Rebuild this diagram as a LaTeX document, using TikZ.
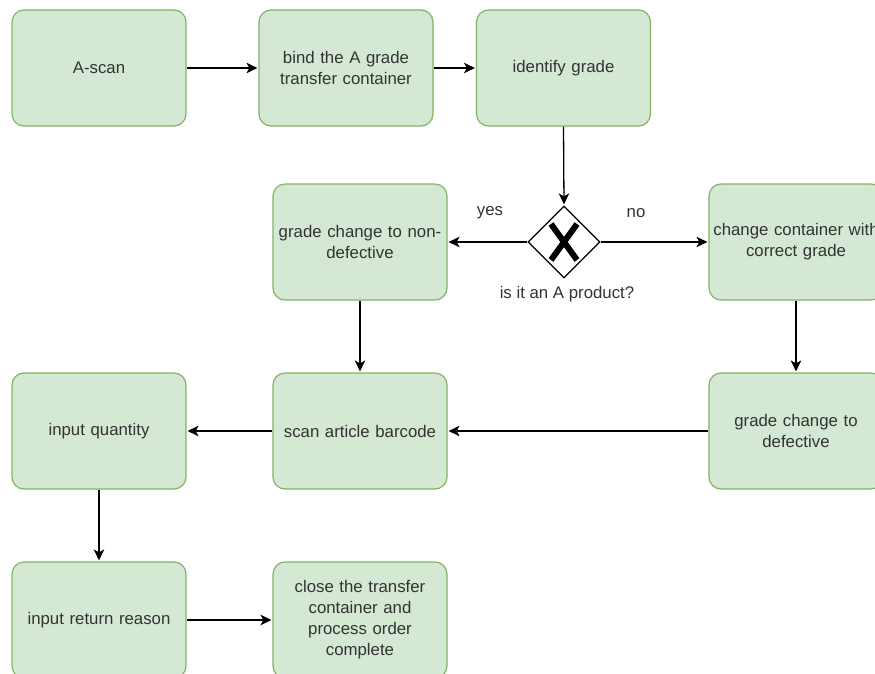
\documentclass[tikz,border=0pt]{standalone}
\usepackage{fontspec}
\setmainfont{Liberation Sans}
\usetikzlibrary{arrows.meta,shapes.geometric}
\definecolor{boxfill}{HTML}{D5E8D4}
\definecolor{boxline}{HTML}{82B366}
\definecolor{txt}{HTML}{333333}
\begin{document}
\begin{tikzpicture}[x=1pt,y=-1pt,
  task/.style={draw=boxline,fill=boxfill,line width=1.2pt,rounded corners=12pt,
    minimum width=174pt,minimum height=116pt,text width=168pt,align=center,
    font=\fontsize{16.8}{21}\selectfont,text=txt,inner sep=0pt},
  gate/.style={draw=black,fill=white,diamond,line width=1.2pt,
    minimum width=72pt,minimum height=72pt,inner sep=0pt},
  flow/.style={-{Stealth[length=11pt,width=10.5pt,inset=3pt]},line width=1.3pt,
    shorten >=1pt},
  lbl/.style={font=\fontsize{16.8}{20}\selectfont,text=txt}]
\useasboundingbox (0,0) rectangle (875,674);
\clip (0,0) rectangle (875,674);
\fill[white] (0,0) rectangle (875,674);
% top row
\node[task] (scan)  at (99,68)  {A-scan};
\node[task] (bind)  at (346,68) {bind the A grade\\transfer container};
\node[task] (ident) at (563.5,68) {identify grade};
% decision row
\node[gate] (gw) at (564,242) {};
\draw[line width=6pt] ([shift={(-13,-18)}]gw.center) -- ([shift={(13,18)}]gw.center)
                      ([shift={(13,-18)}]gw.center) -- ([shift={(-13,18)}]gw.center);
\node[task] (nondef) at (360,242) {grade change to non-\\defective};
\node[task] (chg) at (796,242) {change container with\\correct grade};
% third row
\node[task] (qty)    at (99,431)  {input quantity};
\node[task] (art)    at (360,431) {scan article barcode};
\node[task] (defect) at (796,431) {grade change to\\defective};
% bottom row
\node[task] (reason) at (99,620)  {input return reason};
\node[task] (close)  at (360,620) {close the transfer\\container and\\process order\\complete};
% labels
\node[lbl] (yes) at (490,213) {yes};
\node[lbl] (no)  at (636,213) {no};
\node[lbl] (q)   at (567,294) {is it an A product?};
% connectors
\draw[flow] (scan.east) -- (bind.west);
\draw[flow] (bind.east) -- (ident.west);
\draw[flow] (ident.south) -- (gw.north);
\draw[flow] (gw.west) -- (nondef.east);
\draw[flow] (gw.east) -- (chg.west);
\draw[flow] (chg.south) -- (defect.north);
\draw[flow] (nondef.south) -- (art.north);
\draw[flow] (defect.west) -- (art.east);
\draw[flow] (art.west) -- (qty.east);
\draw[flow] (qty.south) -- (reason.north);
\draw[flow] (reason.east) -- (close.west);
\end{tikzpicture}
\end{document}
